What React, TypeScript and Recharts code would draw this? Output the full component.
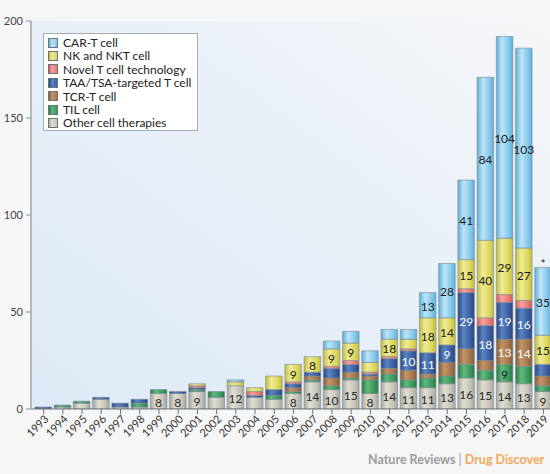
import React from 'react';
import { BarChart, Bar, XAxis, YAxis, CartesianGrid, LabelList } from 'recharts';

const years = ['1993','1994','1995','1996','1997','1998','1999','2000','2001','2002','2003','2004','2005','2006','2007','2008','2009','2010','2011','2012','2013','2014','2015','2016','2017','2018','2019'];

const otherValues = [0,1,3,5,1,1,8,8,9,6,12,6,5,8,14,10,15,8,14,11,11,13,16,15,14,13,9];
const tilValues = [0,1,1,0,0,2,2,0,1,3,0,0,2,1,1,2,1,7,4,4,5,4,7,5,9,9,3];
const tcrValues = [0,0,0,0,0,0,0,0,0,0,0,0,0,2,2,4,3,2,3,5,2,7,8,5,13,14,5];
const taaValues = [1,0,0,1,2,2,0,1,1,0,0,1,3,2,2,5,4,1,5,10,11,9,29,18,19,16,6];
const novelValues = [0,0,0,0,0,0,0,0,1,0,0,2,0,1,0,1,2,1,1,1,0,0,2,4,4,4,0];
const nkValues = [0,0,0,0,0,0,0,0,1,0,2,2,7,9,8,9,9,5,9,5,18,14,15,40,29,27,15];
const carValues = [0,0,0,0,0,0,0,0,0,0,1,0,0,0,0,4,6,6,5,5,13,28,41,84,104,103,35];

const otherLabels = ['','','','','','','8','8','9','','12','','','8','14','10','15','8','14','11','11','13','16','15','14','13','9'];
const tilLabels = ['','','','','','','','','','','','','','','','','','','','','','','','','9','',''];
const tcrLabels = ['','','','','','','','','','','','','','','','','','','','','','','','','13','14',''];
const taaLabels = ['','','','','','','','','','','','','','','','','','','','10','11','9','29','18','19','16',''];
const novelLabels = ['','','','','','','','','','','','','','','','','','','','','','','','','','',''];
const nkLabels = ['','','','','','','','','','','','','','9','8','9','9','','18','','18','14','15','40','29','27','15'];
const carLabels = ['','','','','','','','','','','','','','','','','','','','','13','28','41','84','104','103','35'];
const notes = ['','','','','','','','','','','','','','','','','','','','','','','','','','','*'];

const yTicks = [0, 50, 100, 150, 200];

const series = [
  { key: 'other', name: 'Other cell therapies', values: otherValues, labels: otherLabels, color: '#c6c4b8', light: '#e0ded4', dark: '#a8a69a', text: '#2a2a2a' },
  { key: 'til', name: 'TIL cell', values: tilValues, labels: tilLabels, color: '#3b975b', light: '#62b980', dark: '#2a7a45', text: '#1a1a1a' },
  { key: 'tcr', name: 'TCR-T cell', values: tcrValues, labels: tcrLabels, color: '#a3754b', light: '#c29669', dark: '#855a35', text: '#ffffff' },
  { key: 'taa', name: 'TAA/TSA-targeted T cell', values: taaValues, labels: taaLabels, color: '#3a5f9f', light: '#5d84c2', dark: '#284680', text: '#ffffff' },
  { key: 'novel', name: 'Novel T cell technology', values: novelValues, labels: novelLabels, color: '#ec7873', light: '#f6a6a1', dark: '#d45955', text: '#1a1a1a' },
  { key: 'nk', name: 'NK and NKT cell', values: nkValues, labels: nkLabels, color: '#dcd65c', light: '#efeb98', dark: '#c2bc3e', text: '#1a1a1a' },
  { key: 'car', name: 'CAR-T cell', values: carValues, labels: carLabels, color: '#86c9ea', light: '#bde4f7', dark: '#5eaed8', text: '#1a1a1a' },
];

const data = years.map((year, i) => {
  const row: any = { year, note: notes[i] };
  series.forEach((s) => {
    row[s.key] = s.values[i];
    row[s.key + 'Label'] = s.labels[i];
  });
  return row;
});

const FONT = 'Lato, "Open Sans", sans-serif';

const makeLabel = (color: string) => (props: any) => {
  const { x, y, width, height, value } = props;
  if (!value) return null;
  const h = Math.abs(Number(height));
  const top = Math.min(Number(y), Number(y) + Number(height));
  return (
    <text
      x={Number(x) + Number(width) / 2}
      y={top + h / 2 + 1}
      textAnchor="middle"
      dominantBaseline="central"
      fontFamily={FONT}
      fontSize={12}
      fill={color}
    >
      {value}
    </text>
  );
};

const noteLabel = (props: any) => {
  const { x, y, width, height, value } = props;
  if (!value) return null;
  const top = Math.min(Number(y), Number(y) + Number(height));
  return (
    <text x={Number(x) + Number(width) / 2} y={top + 1} textAnchor="middle" fontFamily={FONT} fontSize={12} fill="#222">
      {value}
    </text>
  );
};

const XTick = (props: any) => {
  const { x, y, payload } = props;
  return (
    <g transform={`translate(${x + 3},${y + 1}) rotate(-45)`}>
      <text x={0} y={0} dy="0.35em" textAnchor="end" fontFamily={FONT} fontSize={11} fill="#333">
        {payload.value}
      </text>
    </g>
  );
};

const LegendBox = () => (
  <div
    style={{
      position: 'absolute',
      left: 43,
      top: 33,
      boxSizing: 'border-box',
      width: 155,
      height: 98,
      background: '#ffffff',
      border: '1px solid #a7abb0',
      padding: '2px 4px 2px 4px',
      fontFamily: FONT,
      fontSize: 12,
      color: '#222',
      lineHeight: '13.4px',
    }}
  >
    {[...series].reverse().map((s) => (
      <div key={s.key} style={{ display: 'flex', alignItems: 'center', whiteSpace: 'nowrap', height: 13.4 }}>
        <span
          style={{
            display: 'inline-block',
            width: 8,
            height: 8,
            background: `linear-gradient(90deg, ${s.dark}, ${s.light} 40%, ${s.color})`,
            border: '1px solid #6a737b',
            marginRight: 5,
            flex: 'none',
          }}
        />
        {s.name}
      </div>
    ))}
  </div>
);

export default function App() {
  return (
    <div
      style={{
        position: 'absolute',
        left: 0,
        top: 0,
        width: 550,
        height: 474,
        overflow: 'hidden',
        background: '#f6f6f6',
      }}
    >
      <BarChart
        width={560}
        height={474}
        data={data}
        margin={{ top: 21, right: 7, bottom: 0, left: 0 }}
        barSize={16.5}
      >
        <defs>
          <linearGradient id="plotBg" x1="0" y1="1" x2="1" y2="0">
            <stop offset="0%" stopColor="#dde9f6" />
            <stop offset="55%" stopColor="#e9f0f8" />
            <stop offset="100%" stopColor="#f5f6f8" />
          </linearGradient>
          {series.map((s) => (
            <linearGradient key={s.key} id={'g-' + s.key} x1="0" y1="0" x2="1" y2="0">
              <stop offset="0%" stopColor={s.dark} />
              <stop offset="35%" stopColor={s.light} />
              <stop offset="75%" stopColor={s.color} />
              <stop offset="100%" stopColor={s.dark} />
            </linearGradient>
          ))}
        </defs>
        <CartesianGrid horizontal={false} vertical={false} fill="url(#plotBg)" stroke="none" />
        <XAxis
          dataKey="year"
          interval={0}
          height={65}
          padding={{ left: 3, right: 0 }}
          stroke="#6d7278"
          tickSize={5}
          tickLine={{ stroke: '#6d7278' }}
          tick={<XTick />}
        />
        <YAxis
          width={31}
          domain={[0, 200]}
          ticks={yTicks}
          allowDataOverflow
          stroke="#b3b8bd"
          strokeWidth={2}
          tickSize={5}
          tickMargin={3}
          tickLine={{ stroke: '#8a9096', strokeWidth: 1 }}
          tick={{ fontFamily: FONT, fontSize: 11, fill: '#444' }}
        />
        {series.map((s) => (
          <Bar
            key={s.key}
            dataKey={s.key}
            name={s.name}
            stackId="a"
            fill={`url(#g-${s.key})`}
            stroke="#7c8892"
            strokeWidth={0.6}
            isAnimationActive={false}
          >
            <LabelList dataKey={s.key + 'Label'} content={makeLabel(s.text)} />
            {s.key === 'car' ? <LabelList dataKey="note" content={noteLabel} /> : null}
          </Bar>
        ))}
      </BarChart>
      <LegendBox />
      <div
        style={{
          position: 'absolute',
          left: 368,
          top: 452,
          fontFamily: FONT,
          fontWeight: 700,
          fontSize: 12.5,
          whiteSpace: 'nowrap',
          color: '#9b9b9b',
        }}
      >
        Nature Reviews <span style={{ fontWeight: 400 }}>|</span>{' '}
        <span style={{ color: '#f2a95c' }}>Drug Discover</span>
      </div>
    </div>
  );
}
